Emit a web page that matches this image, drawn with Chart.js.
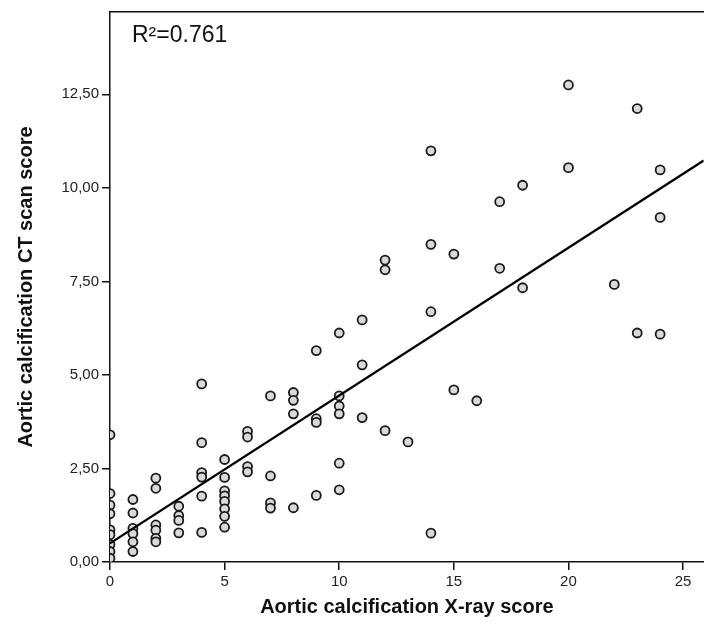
<!DOCTYPE html>
<html>
<head>
<meta charset="utf-8">
<script src="https://cdn.jsdelivr.net/npm/chart.js@4.4.1/dist/chart.umd.min.js"></script>
<style>
  html, body { margin: 0; padding: 0; background: #fff; overflow: hidden; }
  #box { width: 710px; height: 627px; }
</style>
</head>
<body>
<div id="box"><canvas id="scoreChart"></canvas></div>
<script>
// X-ray score (integer) and CT score for each patient
var xrayScores = [
  0, 0, 0, 0, 0, 0, 0, 0, 0,
  1, 1, 1, 1, 1, 1,
  2, 2, 2, 2, 2, 2,
  3, 3, 3, 3,
  4, 4, 4, 4, 4, 4,
  5, 5, 5, 5, 5, 5, 5, 5,
  6, 6, 6, 6,
  7, 7, 7, 7,
  8, 8, 8, 8,
  9, 9, 9, 9,
  10, 10, 10, 10, 10, 10,
  11, 11, 11,
  12, 12, 12,
  13,
  14, 14, 14, 14,
  15, 15,
  16,
  17, 17,
  18, 18,
  20, 20,
  22,
  23, 23,
  24, 24, 24
];
var ctScores = [
  3.40, 1.83, 1.52, 1.29, 0.86, 0.73, 0.47, 0.28, 0.10,
  1.67, 1.31, 0.90, 0.76, 0.54, 0.28,
  2.24, 1.97, 0.99, 0.85, 0.63, 0.54,
  1.49, 1.24, 1.11, 0.78,
  4.76, 3.19, 2.39, 2.27, 1.76, 0.79,
  2.74, 2.26, 1.90, 1.77, 1.62, 1.42, 1.22, 0.93,
  3.49, 3.34, 2.55, 2.41,
  4.44, 2.30, 1.58, 1.44,
  4.53, 4.32, 3.96, 1.45,
  5.65, 3.83, 3.73, 1.78,
  6.12, 4.44, 4.17, 3.96, 2.64, 1.93,
  6.47, 5.27, 3.86,
  8.07, 7.81, 3.51,
  3.21,
  10.99, 8.49, 6.69, 0.77,
  8.23, 4.60,
  4.31,
  9.63, 7.85,
  10.07, 7.33,
  12.75, 10.54,
  7.42,
  12.12, 6.12,
  10.48, 9.21, 6.09
];
var fitIntercept = 0.5;
var fitSlope = 0.395;
var rSquaredLabel = 'R\u00b2=0.761';
var xTitle = 'Aortic calcification X-ray score';
var yTitle = 'Aortic calcification CT scan score';

var xMin = 0, xMax = 25.9;
var yMin = 0, yMax = 14.7;

var points = [];
for (let i = 0; i < xrayScores.length; i++) {
  points.push({x: xrayScores[i], y: ctScores[i]});
}
var fitLine = [
  {x: xMin, y: fitIntercept + fitSlope * xMin},
  {x: xMax, y: fitIntercept + fitSlope * xMax}
];

var fontFamily = '"Liberation Sans", Arial, sans-serif';
var axisColor = '#111111';

// R² note in the top-left corner of the plot
var rSquaredNote = {
  id: 'rSquaredNote',
  afterDraw: function(chart) {
    var ctx = chart.ctx;
    var area = chart.chartArea;
    ctx.save();
    ctx.font = '23px ' + fontFamily;
    ctx.fillStyle = '#111111';
    ctx.textBaseline = 'alphabetic';
    ctx.textAlign = 'left';
    ctx.fillText(rSquaredLabel, area.left + 22, area.top + 30);
    ctx.restore();
  }
};

var ctx = document.getElementById('scoreChart');

var scoreChart = new Chart(ctx, {
  type: 'scatter',
  data: {
    datasets: [
      {
        label: 'Fit',
        type: 'line',
        data: fitLine,
        borderColor: '#000000',
        borderWidth: 2.2,
        pointRadius: 0,
        fill: false,
        order: 0
      },
      {
        label: 'Patients',
        data: points,
        pointRadius: 4.5,
        pointBorderWidth: 1.8,
        pointBorderColor: '#1a1a1a',
        pointBackgroundColor: '#d9d9d9',
        clip: 0,
        order: 1
      }
    ]
  },
  options: {
    responsive: true,
    maintainAspectRatio: false,
    animation: false,
    layout: { padding: 0 },
    scales: {
      x: {
        type: 'linear',
        position: 'bottom',
        min: xMin,
        max: xMax,
        afterFit: function(scale) { scale.height = 65; },
        ticks: {
          stepSize: 5,
          includeBounds: false,
          color: '#222222',
          padding: 3,
          maxRotation: 0,
          font: { family: fontFamily, size: 15 }
        },
        grid: {
          display: true,
          drawOnChartArea: false,
          drawTicks: true,
          tickLength: 8,
          color: axisColor,
          lineWidth: 1.5
        },
        border: { display: true, color: axisColor, width: 1.5 },
        title: {
          display: true,
          text: xTitle,
          color: '#111111',
          padding: { top: 0, bottom: 8 },
          font: { family: fontFamily, size: 20, weight: 'bold' }
        }
      },
      xTop: {
        type: 'linear',
        axis: 'x',
        position: 'top',
        min: xMin,
        max: xMax,
        afterFit: function(scale) { scale.height = 12; },
        ticks: { display: false },
        grid: { display: false },
        border: { display: true, color: axisColor, width: 1.5 }
      },
      y: {
        type: 'linear',
        position: 'left',
        min: yMin,
        max: yMax,
        afterFit: function(scale) { scale.width = 110; },
        ticks: {
          stepSize: 2.5,
          includeBounds: false,
          color: '#222222',
          padding: 3,
          font: { family: fontFamily, size: 15 },
          callback: function(value) {
            return value.toFixed(2).replace('.', ',');
          }
        },
        grid: {
          display: true,
          drawOnChartArea: false,
          drawTicks: true,
          tickLength: 8,
          color: axisColor,
          lineWidth: 1.5
        },
        border: { display: true, color: axisColor, width: 1.5 },
        title: {
          display: true,
          text: yTitle,
          color: '#111111',
          padding: { top: 14, bottom: 0 },
          font: { family: fontFamily, size: 20, weight: 'bold' }
        }
      }
    },
    plugins: {
      legend: { display: false },
      tooltip: { enabled: false }
    }
  },
  plugins: [rSquaredNote]
});
</script>
</body>
</html>
